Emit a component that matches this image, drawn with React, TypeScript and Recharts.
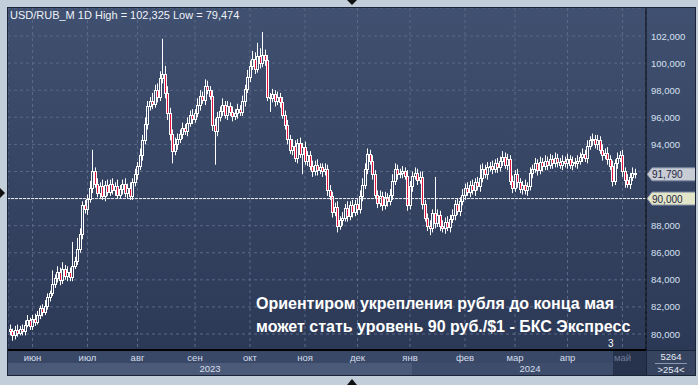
import React from 'react';
import { Bar, CartesianGrid, ComposedChart, ReferenceLine, XAxis, YAxis } from 'recharts';

// daily closes, USD/RUB_M, late May 2023 .. early May 2024
const closes = [
  80.2, 79.9, 80.3, 80.1, 80.4, 80.2, 80.7, 81.0, 80.6, 81.1,
  80.9, 81.4, 81.9, 81.6, 82.1, 82.7, 83.0, 83.7, 84.1, 84.6,
  84.0, 84.8, 84.3, 84.6, 84.2, 85.0, 85.4, 86.3, 87.4, 89.5,
  89.2, 90.0, 90.8, 92.0, 91.1, 90.4, 90.9, 90.2, 91.0, 90.5,
  91.1, 90.6, 90.9, 90.3, 90.7, 91.1, 90.4, 90.8, 90.2, 91.2,
  91.8, 92.4, 93.2, 94.3, 95.5, 96.8, 97.2, 97.0, 98.0, 97.5,
  98.9, 99.2, 97.8, 96.3, 94.8, 93.5, 94.0, 94.4, 94.8, 95.2,
  95.0, 95.6, 96.2, 95.9, 96.3, 96.9, 97.6, 97.3, 98.3, 98.0,
  97.6, 95.4, 95.0, 96.0, 96.5, 96.9, 96.2, 96.8, 96.4, 96.1,
  96.3, 96.6, 96.4, 97.2, 98.1, 99.0, 99.8, 100.3, 99.6, 100.5,
  100.0, 100.6, 100.2, 97.5, 97.4, 97.7, 97.2, 97.5, 97.1, 96.2,
  95.4, 94.4, 93.6, 93.9, 93.0, 94.1, 93.3, 93.8, 92.8, 93.2,
  92.4, 92.0, 92.5, 92.1, 92.3, 92.0, 92.2, 90.6, 90.2, 89.0,
  89.4, 88.0, 88.4, 88.6, 89.3, 88.7, 89.5, 89.0, 89.6, 89.2,
  90.2, 91.0, 92.2, 93.3, 92.8, 91.8, 90.3, 89.7, 90.2, 89.5,
  90.1, 89.8, 90.3, 91.3, 92.2, 91.8, 91.9, 92.0, 91.7, 89.5,
  90.9, 91.7, 91.9, 91.4, 91.6, 89.6, 88.6, 88.0, 87.8, 88.9,
  88.2, 88.8, 88.0, 87.8, 88.3, 87.9, 88.5, 88.8, 89.6, 89.1,
  89.8, 90.3, 90.8, 90.5, 91.0, 90.6, 91.2, 90.9, 91.5, 92.2,
  91.8, 92.3, 92.4, 92.2, 92.6, 92.3, 92.8, 93.1, 92.5, 92.9,
  91.3, 90.8, 91.8, 91.2, 90.7, 91.0, 90.6, 90.9, 91.9, 92.2,
  92.6, 92.1, 92.7, 92.4, 92.8, 92.5, 92.9, 92.6, 93.0, 92.7,
  92.5, 92.8, 92.6, 92.9, 92.5, 92.7, 92.6, 92.8, 93.1, 93.3,
  93.0, 93.9, 94.3, 94.4, 94.0, 94.3, 93.6, 93.2, 93.4, 92.9,
  92.4, 91.3, 92.6, 93.0, 93.2, 92.0, 91.4, 91.1, 91.6, 91.9, 91.79,
];
const firstOpen = 80.4;

// shadow lengths above / below the body
const wickHi = [
  0.3, 0.2, 0.3, 0.4, 0.2, 0.3, 0.3, 0.4, 0.2, 0.3,
  0.4, 0.3, 0.2, 0.3, 0.4, 0.3, 0.2, 1.0, 0.3, 0.4,
  0.3, 0.5, 0.3, 0.4, 0.3, 1.8, 0.3, 0.8, 0.4, 0.3,
  0.4, 0.3, 0.5, 1.6, 0.3, 0.4, 0.3, 0.5, 0.3, 0.4,
  0.3, 0.4, 0.3, 0.5, 0.3, 0.3, 0.4, 0.3, 0.4, 0.3,
  0.4, 0.3, 0.5, 0.4, 0.5, 0.4, 0.3, 0.6, 0.4, 0.5,
  0.5, 2.6, 0.6, 0.5, 0.4, 0.3, 0.5, 0.4, 0.3, 0.4,
  0.3, 0.4, 0.3, 0.4, 0.3, 0.5, 0.4, 0.3, 0.5, 0.4,
  0.3, 0.4, 0.5, 0.4, 0.3, 0.5, 0.3, 0.4, 0.3, 0.4,
  0.3, 0.4, 0.3, 0.4, 0.3, 0.5, 0.4, 0.6, 0.5, 1.0,
  0.6, 1.7, 0.4, 0.4, 0.3, 0.4, 0.3, 0.4, 0.3, 0.4,
  0.3, 0.4, 0.3, 0.5, 0.4, 0.3, 0.4, 0.3, 0.4, 0.3,
  0.3, 0.4, 0.3, 0.4, 0.3, 0.3, 0.4, 0.3, 0.4, 0.3,
  0.3, 0.4, 0.3, 0.4, 0.3, 0.5, 0.3, 0.4, 0.3, 0.4,
  0.4, 0.5, 0.4, 0.4, 0.3, 0.4, 0.3, 0.3, 0.4, 0.3,
  0.4, 0.3, 0.4, 0.5, 0.4, 0.3, 0.3, 0.4, 0.3, 0.4,
  0.4, 0.3, 0.4, 0.3, 0.4, 0.4, 0.3, 0.3, 0.4, 0.3,
  2.7, 0.4, 0.3, 0.4, 0.3, 0.4, 0.3, 0.4, 0.3, 0.4,
  0.3, 0.4, 0.3, 0.4, 0.3, 0.4, 0.3, 0.4, 1.0, 0.4,
  0.3, 0.4, 0.3, 0.4, 0.3, 0.4, 0.3, 0.4, 0.3, 0.4,
  0.3, 0.4, 0.3, 0.4, 0.3, 0.3, 0.4, 0.3, 0.4, 0.3,
  0.4, 0.3, 0.4, 0.3, 0.4, 0.3, 0.4, 0.3, 0.4, 0.3,
  0.3, 0.4, 0.3, 0.4, 0.3, 0.4, 0.3, 0.4, 0.3, 0.4,
  0.3, 0.4, 0.3, 0.4, 0.3, 0.4, 0.3, 0.4, 0.3, 0.4,
  0.3, 0.4, 0.3, 0.4, 0.3, 0.4, 0.3, 0.4, 0.3, 0.4, 0.3,
];
const wickLo = [
  0.3, 0.4, 0.3, 0.3, 0.2, 0.3, 0.3, 0.2, 0.3, 0.3,
  0.3, 0.2, 0.3, 0.3, 0.2, 0.3, 0.3, 0.2, 0.3, 0.3,
  0.4, 0.3, 0.3, 0.4, 0.3, 0.3, 0.2, 0.3, 0.3, 0.4,
  0.3, 0.4, 0.3, 0.4, 0.3, 0.3, 0.4, 0.3, 0.4, 0.3,
  0.3, 0.3, 0.4, 0.3, 0.3, 0.4, 0.3, 0.4, 0.3, 0.3,
  0.3, 0.4, 0.3, 0.4, 0.3, 0.4, 0.3, 0.4, 0.3, 0.4,
  0.3, 0.4, 0.4, 0.5, 0.5, 0.9, 0.3, 0.4, 0.3, 0.4,
  0.3, 0.4, 0.3, 0.4, 0.3, 0.3, 0.4, 0.3, 0.4, 0.3,
  0.3, 0.4, 2.5, 0.4, 0.3, 0.4, 0.3, 0.4, 0.3, 0.4,
  0.3, 0.4, 0.3, 0.3, 0.4, 0.3, 0.4, 0.3, 0.4, 0.3,
  0.4, 0.3, 0.4, 0.3, 1.0, 0.3, 0.4, 0.3, 0.4, 0.3,
  0.3, 0.4, 0.3, 0.4, 0.3, 0.4, 0.3, 1.5, 0.3, 0.4,
  0.3, 0.4, 0.3, 0.4, 0.3, 0.4, 0.3, 0.4, 0.3, 0.4,
  0.3, 0.5, 0.3, 0.4, 0.3, 0.4, 0.3, 0.4, 0.3, 0.4,
  0.3, 0.4, 0.3, 0.4, 0.3, 0.4, 0.3, 0.4, 0.3, 0.4,
  0.3, 0.4, 0.3, 0.4, 0.3, 0.4, 0.3, 0.4, 0.3, 0.4,
  0.3, 0.4, 0.3, 0.4, 0.3, 0.4, 0.3, 0.4, 0.5, 0.3,
  0.4, 0.3, 0.4, 0.3, 0.4, 0.3, 0.4, 0.3, 0.4, 0.3,
  0.4, 0.3, 0.4, 0.3, 0.4, 0.3, 0.4, 0.3, 0.4, 0.3,
  0.3, 0.4, 0.3, 0.4, 0.3, 0.4, 0.3, 0.4, 0.3, 0.4,
  0.3, 0.4, 0.3, 0.4, 0.3, 0.4, 0.3, 0.4, 0.3, 0.4,
  0.3, 0.4, 0.3, 0.4, 0.3, 0.4, 0.3, 0.4, 0.3, 0.4,
  0.3, 0.4, 0.3, 0.4, 0.3, 0.4, 0.3, 0.4, 0.3, 0.4,
  0.3, 0.4, 0.3, 0.4, 0.3, 0.4, 0.3, 0.4, 0.3, 0.4,
  0.3, 0.4, 0.3, 0.4, 0.3, 0.4, 0.6, 0.3, 0.4, 0.3, 0.3,
];

const monthStarts = [9, 31, 51, 74, 96, 118, 139, 160, 182, 202, 223, 245];
const monthLabels = ['июн', 'июл', 'авг', 'сен', 'окт', 'ноя', 'дек', 'янв', 'фев', 'мар', 'апр', 'май'];
const priceTicks = [80, 82, 84, 86, 88, 90, 92, 94, 96, 98, 100, 102];
const lastPrice = 91.79;
const levelPrice = 90;

const candles = closes.map((close, i) => {
  const open = i === 0 ? firstOpen : closes[i - 1];
  const high = Math.max(open, close) + wickHi[i];
  const low = Math.min(open, close) - wickLo[i];
  return { i, open, close, high, low, range: [low, high] };
});

const fmt = (v: number) => v.toFixed(3).replace('.', ',');

const Candle = (props: any) => {
  const { x, y, width, height, payload } = props;
  if (x == null || !payload) return null;
  const top = Math.min(y, y + height);
  const span = Math.abs(height);
  const k = span / (payload.high - payload.low);
  const cx = Math.round(x + width / 2) + 0.5;
  const yOpen = top + (payload.high - payload.open) * k;
  const yClose = top + (payload.high - payload.close) * k;
  const bTop = Math.round(Math.min(yOpen, yClose)) + 0.5;
  const bBot = Math.max(Math.round(Math.max(yOpen, yClose)) + 0.5, bTop + 1);
  const down = payload.close < payload.open;
  return (
    <g>
      <line x1={cx} x2={cx} y1={top} y2={bTop} stroke="#ffffff" />
      <line x1={cx} x2={cx} y1={bBot} y2={top + span} stroke="#ffffff" />
      <rect
        x={cx - 1}
        y={bTop}
        width={2}
        height={bBot - bTop}
        fill={down ? '#e3133f' : 'none'}
        stroke="#ffffff"
      />
    </g>
  );
};

const MonthTick = (props: any) => {
  const { x, y, payload } = props;
  const idx = monthStarts.indexOf(payload.value);
  const label = monthLabels[idx] ?? '';
  return (
    <text
      x={x}
      y={y + 9}
      textAnchor="middle"
      fontSize={9.5}
      fill={label === 'май' ? '#6f7d98' : '#d5deec'}
    >
      {label}
    </text>
  );
};

// price ticks hidden under the two price tags are not drawn
const PriceTick = (props: any) => {
  const { x, y, payload } = props;
  const v = payload.value as number;
  if (Math.abs(v - levelPrice) < 0.5 || Math.abs(v - lastPrice) < 0.5) return null;
  return (
    <text x={x + 3} y={y + 3.5} fontSize={9.5} fill="#d5e0f0">
      {fmt(v)}
    </text>
  );
};

const priceTag = (value: number, bg: string) => (props: any) => {
  const vb = props.viewBox;
  if (!vb) return null;
  const left = vb.x + vb.width + 1;
  const yy = vb.y;
  return (
    <g>
      <path
        d={`M${left} ${yy} L${left + 5} ${yy - 6.5} H${left + 49} V${yy + 6.5} H${left + 5} Z`}
        fill={bg}
        stroke="#7d8aa3"
      />
      <text x={left + 5} y={yy + 4} fontSize={10} fill="#1d2640">
        {fmt(value)}
      </text>
    </g>
  );
};

const App: React.FC = () => {
  return (
    <div
      style={{
        position: 'absolute',
        left: 0,
        top: 0,
        width: 698,
        height: 385,
        background: '#c3cedb',
        overflow: 'hidden',
        fontFamily: '"Liberation Sans", Arial, sans-serif',
      }}
    >
      {/* frame */}
      <div style={{ position: 'absolute', left: 7, top: 7, width: 689, height: 369, background: '#1b2337' }} />
      <div
        style={{
          position: 'absolute',
          left: 8,
          top: 8,
          width: 687,
          height: 342,
          background: 'linear-gradient(#405070, #2c3956)',
        }}
      />
      {/* time axis rows */}
      <div style={{ position: 'absolute', left: 8, top: 351, width: 638, height: 12, background: '#3a4867' }} />
      <div style={{ position: 'absolute', left: 8, top: 363, width: 404, height: 12, background: '#4b5a78' }} />
      <div style={{ position: 'absolute', left: 412, top: 363, width: 201, height: 12, background: '#3f4d6c' }} />
      <div style={{ position: 'absolute', left: 613, top: 351, width: 33, height: 24, background: '#27324d' }} />
      <div style={{ position: 'absolute', left: 647, top: 351, width: 48, height: 24, background: '#37445f' }} />
      <div style={{ position: 'absolute', left: 8, top: 363, width: 404, height: 12, color: '#d5deec', fontSize: 9.5, textAlign: 'center', lineHeight: '12px' }}>
        2023
      </div>
      <div style={{ position: 'absolute', left: 412, top: 363, width: 236, height: 12, color: '#d5deec', fontSize: 9.5, textAlign: 'center', lineHeight: '12px' }}>
        2024
      </div>
      <div style={{ position: 'absolute', left: 647, top: 351, width: 48, height: 12, color: '#e4ebf5', fontSize: 9.5, textAlign: 'center', lineHeight: '12px' }}>
        5264
      </div>
      <div style={{ position: 'absolute', left: 655, top: 363, width: 32, height: 1, background: '#8b98b0' }} />
      <div style={{ position: 'absolute', left: 647, top: 364, width: 48, height: 11, color: '#e4ebf5', fontSize: 9.5, textAlign: 'center', lineHeight: '11px' }}>
        {'>254<'}
      </div>

      {/* markers */}
      <div style={{ position: 'absolute', left: 347, top: 0, width: 0, height: 0, borderLeft: '5px solid transparent', borderRight: '5px solid transparent', borderTop: '5px solid #111' }} />
      <div style={{ position: 'absolute', left: 347, top: 379, width: 0, height: 0, borderLeft: '5px solid transparent', borderRight: '5px solid transparent', borderBottom: '6px solid #111' }} />
      <div style={{ position: 'absolute', left: 0, top: 188, width: 0, height: 0, borderTop: '5px solid transparent', borderBottom: '5px solid transparent', borderLeft: '5px solid #111' }} />

      <div style={{ position: 'absolute', left: 8, top: 8 }}>
        <ComposedChart
          width={687}
          height={356}
          data={candles}
          margin={{ top: 0, right: 0, bottom: 0, left: 0 }}
        >
          <CartesianGrid stroke="#5b6886" strokeDasharray="3 3" />
          <XAxis
            dataKey="i"
            type="number"
            domain={[-0.8, 254.4]}
            allowDataOverflow
            ticks={monthStarts}
            interval={0}
            height={14}
            tickLine={false}
            tickSize={0}
            axisLine={{ stroke: '#000000', strokeWidth: 2 }}
            tick={<MonthTick />}
          />
          <YAxis
            orientation="right"
            width={49}
            domain={[78.82, 104.07]}
            allowDataOverflow
            ticks={priceTicks}
            interval={0}
            tickLine={false}
            tickSize={0}
            axisLine={{ stroke: '#000000' }}
            tick={<PriceTick />}
          />
          <ReferenceLine
            y={levelPrice}
            stroke="#f0f0f0"
            strokeDasharray="3 1"
            label={priceTag(levelPrice, '#e3e5c9')}
          />
          <ReferenceLine
            y={lastPrice}
            stroke="none"
            strokeOpacity={0}
            label={priceTag(lastPrice, '#c8ccd5')}
          />
          <Bar dataKey="range" shape={Candle} barSize={3} isAnimationActive={false} />
        </ComposedChart>
      </div>

      <div style={{ position: 'absolute', left: 10, top: 8, color: '#eef2f8', fontSize: 11, lineHeight: '14px' }}>
        USD/RUB_M 1D High = 102,325 Low = 79,474
      </div>
      <div style={{ position: 'absolute', left: 608, top: 338, color: '#ffffff', fontSize: 10, lineHeight: '12px' }}>
        3
      </div>
      <div
        style={{
          position: 'absolute',
          left: 256,
          top: 292,
          color: '#ffffff',
          fontSize: 16,
          fontWeight: 'bold',
          lineHeight: '23px',
          whiteSpace: 'nowrap',
        }}
      >
        Ориентиром укрепления рубля до конца мая
        <br />
        может стать уровень 90 руб./$1 - БКС Экспресс
      </div>
    </div>
  );
};

export default App;
